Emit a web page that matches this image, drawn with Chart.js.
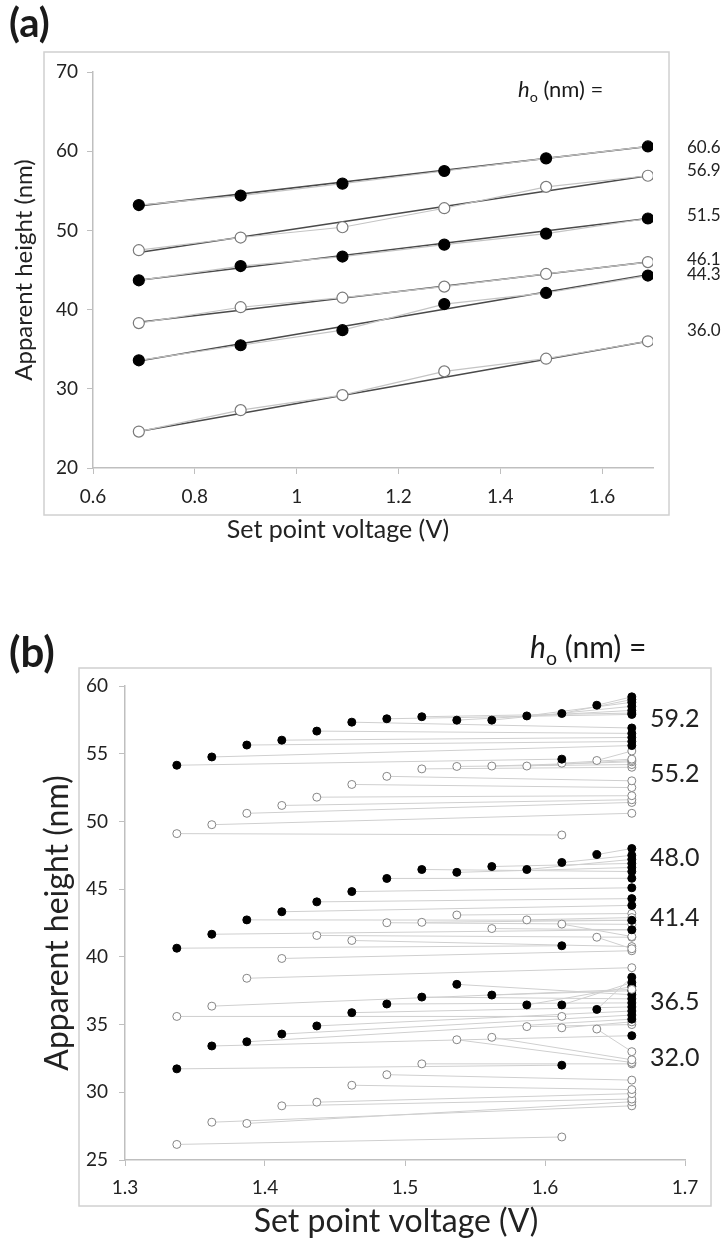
<!DOCTYPE html>
<html>
<head>
<meta charset="utf-8">
<script src="https://cdn.jsdelivr.net/npm/chart.js@4.4.1/dist/chart.umd.min.js"></script>
<style>
  body { margin: 0; background: #fff; width: 726px; height: 1241px; position: relative; overflow: hidden; font-family: Lato, sans-serif; color: #1a1a1a; }
  canvas { position: absolute; left: 0; }
  .panel { position: absolute; font-weight: bold; z-index: 2; }
  .ho { position: absolute; z-index: 2; white-space: nowrap; }
  .ho sub { font-size: 0.65em; }
</style>
</head>
<body>
<canvas id="chartA" width="726" height="560" style="top:0"></canvas>
<canvas id="chartB" width="726" height="641" style="top:600px"></canvas>
<div class="panel" style="left:9px; top:-2px; font-size:40px;">(a)</div>
<div class="ho" style="left:518px; top:75px; font-size:22px;"><i>h</i><sub>o</sub> (nm) =</div>
<div class="panel" style="left:9px; top:626px; font-size:42px;">(b)</div>
<div class="ho" style="left:530px; top:628px; font-size:30px;"><i>h</i><sub>o</sub> (nm) =</div>
<script>
// ---- panel (a) data ----
const voltA = [0.69, 0.89, 1.09, 1.29, 1.49, 1.69];
const hoA = ['60.6', '56.9', '51.5', '46.1', '44.3', '36.0'];
const filledA = [true, false, true, false, true, false];
const heightA606 = [53.2, 54.4, 55.9, 57.5, 59.1, 60.6];
const heightA569 = [47.5, 49.1, 50.4, 52.8, 55.5, 56.9];
const heightA515 = [43.7, 45.5, 46.7, 48.2, 49.6, 51.5];
const heightA461 = [38.3, 40.3, 41.5, 42.9, 44.5, 46.0];
const heightA443 = [33.6, 35.5, 37.4, 40.7, 42.1, 44.3];
const heightA360 = [24.6, 27.3, 29.2, 32.2, 33.8, 36.0];
// linear fit lines, value at first and last voltage
const fitStartA = [53.1, 47.2, 43.7, 38.4, 33.5, 24.6];
const fitEndA = [60.6, 56.9, 51.5, 46.0, 44.4, 36.0];

// ---- panel (b) data ----
const voltStartB = [1.337, 1.362, 1.387, 1.412, 1.437, 1.462, 1.487, 1.512, 1.537, 1.562, 1.587, 1.612, 1.637];
const voltEndB = [1.612, 1.662, 1.662, 1.662, 1.662, 1.662, 1.662, 1.662, 1.662, 1.662, 1.662, 1.662, 1.662];
const hoB = ['59.2', '55.2', '48.0', '41.4', '36.5', '32.0'];
const filledB = [true, false, true, false, true, false];
const startB592 = [54.15, 54.76, 55.64, 56.0, 56.67, 57.33, 57.58, 57.73, 57.48, 57.48, 57.79, 57.97, 58.58];
const endB592 = [54.6, 55.6, 55.9, 56.2, 56.5, 56.9, 57.9, 58.0, 58.2, 58.5, 58.8, 59.0, 59.2];
const startB552 = [49.1, 49.76, 50.6, 51.18, 51.79, 52.73, 53.33, 53.88, 54.06, 54.09, 54.09, 54.3, 54.5];
const endB552 = [49.0, 50.6, 51.4, 51.6, 51.9, 52.5, 53.0, 54.0, 54.2, 54.4, 54.5, 54.6, 55.2];
const startB480 = [40.64, 41.67, 42.73, 43.33, 44.06, 44.82, 45.79, 46.45, 46.24, 46.67, 46.45, 46.97, 47.55];
const endB480 = [40.82, 42.0, 42.7, 43.8, 44.3, 45.1, 45.8, 46.3, 46.6, 46.9, 47.2, 47.5, 48.0];
const startB414 = [35.6, 36.36, 38.42, 39.88, 41.58, 41.21, 42.52, 42.55, 43.09, 42.09, 42.73, 42.42, 41.45];
const endB414 = [35.6, 37.6, 39.2, 40.45, 41.45, 40.76, 42.4, 42.7, 43.2, 42.0, 42.9, 41.5, 40.6];
const startB365 = [31.73, 33.42, 33.73, 34.3, 34.9, 35.88, 36.52, 37.03, 37.97, 37.18, 36.45, 36.45, 36.12];
const endB365 = [32.0, 34.18, 35.4, 35.7, 36.0, 36.3, 36.6, 36.9, 37.2, 37.5, 37.8, 38.1, 38.5];
const startB320 = [26.15, 27.79, 27.7, 29.0, 29.27, 30.52, 31.3, 32.1, 33.88, 34.06, 34.85, 34.76, 34.67];
const endB320 = [26.7, 29.0, 29.3, 29.5, 29.9, 30.2, 30.9, 32.1, 32.2, 32.4, 35.0, 35.2, 33.0];

const FONT = 'Lato, sans-serif';
const TXT = '#222';
const AXIS = '#bfbfbf';

// frame, x-axis title and the h_o labels on the right (placed with the y scale)
function annotate(o) {
  return {
    id: 'annotate',
    beforeDraw(chart) {
      const ctx = chart.ctx;
      ctx.save();
      ctx.strokeStyle = '#d0d0d0';
      ctx.lineWidth = 1.5;
      ctx.strokeRect(o.frame[0], o.frame[1], o.frame[2], o.frame[3]);
      ctx.restore();
    },
    afterDraw(chart) {
      const ctx = chart.ctx;
      const y = chart.scales.y;
      ctx.save();
      ctx.fillStyle = TXT;
      ctx.textBaseline = 'middle';
      ctx.font = o.labelSize + 'px ' + FONT;
      o.labels.forEach((t, i) => ctx.fillText(t, o.labelX, y.getPixelForValue(o.labelVals[i])));
      ctx.font = o.titleSize + 'px ' + FONT;
      ctx.textAlign = 'center';
      ctx.fillText('Set point voltage (V)', o.titleX, o.titleY);
      ctx.restore();
    }
  };
}

function axes(o) {
  return {
    x: {
      type: 'linear', min: o.xmin, max: o.xmax,
      ticks: { stepSize: o.xstep, includeBounds: false, padding: o.xpad, color: TXT, font: { family: FONT, size: o.tick }, maxRotation: 0,
        callback: v => String(Math.round(v * 10) / 10) },
      grid: { drawOnChartArea: false, tickLength: 6, color: AXIS },
      border: { color: AXIS, width: 1.5 },
      title: { display: false },
      afterFit(s) { s.height = o.xh; }
    },
    y: {
      min: o.ymin, max: o.ymax,
      ticks: { stepSize: o.ystep, padding: o.ypad, color: TXT, font: { family: FONT, size: o.tick } },
      grid: { drawOnChartArea: false, tickLength: 6, color: AXIS },
      border: { color: AXIS, width: 1.5 },
      title: { display: true, text: 'Apparent height (nm)', color: TXT, font: { family: FONT, size: o.title }, padding: { top: o.ytp, bottom: 0 } },
      afterFit(s) { s.width = o.yw; }
    }
  };
}

// ---- chart (a) ----
const seriesA = [heightA606, heightA569, heightA515, heightA461, heightA443, heightA360];
const dsA = [];
seriesA.forEach((h, k) => {
  dsA.push({
    data: [{ x: voltA[0], y: fitStartA[k] }, { x: voltA[voltA.length - 1], y: fitEndA[k] }],
    showLine: true, pointRadius: 0, borderColor: '#4a4a4a', borderWidth: 1.6, order: 2
  });
  dsA.push({
    data: voltA.map((v, i) => ({ x: v, y: h[i] })),
    showLine: true, borderColor: '#c4c4c4', borderWidth: 1.2,
    pointRadius: 5.5, pointBorderWidth: 1.2,
    pointBackgroundColor: filledA[k] ? '#000' : '#fff',
    pointBorderColor: filledA[k] ? '#000' : '#7a7a7a',
    order: 1
  });
});

new Chart(document.getElementById('chartA'), {
  type: 'scatter',
  data: { datasets: dsA },
  options: {
    responsive: false, animation: false,
    layout: { padding: { left: 0, top: 72, right: 73, bottom: 22 } },
    plugins: { legend: { display: false }, tooltip: { enabled: false } },
    scales: axes({ xmin: 0.6, xmax: 1.7, xstep: 0.2, ymin: 20, ymax: 70, ystep: 10,
      tick: 19, title: 24, xpad: 11, xh: 70, ypad: 9, ytp: 10, yw: 93 })
  },
  plugins: [annotate({ frame: [44, 52, 625, 463], labels: hoA, labelVals: [60.5, 57.6, 51.9, 46.3, 44.4, 37.4],
    labelX: 687, labelSize: 17, titleX: 338, titleY: 530, titleSize: 25 })]
});

// ---- chart (b) ----
const groupsB = [
  [startB592, endB592], [startB552, endB552], [startB480, endB480],
  [startB414, endB414], [startB365, endB365], [startB320, endB320]
];
const dsB = [];
groupsB.forEach((g, k) => {
  const pts = [];
  voltStartB.forEach((v, i) => {
    const a = { x: v, y: g[0][i] };
    const b = { x: voltEndB[i], y: g[1][i] };
    dsB.push({ data: [a, b], showLine: true, pointRadius: 0, borderColor: '#cfcfcf', borderWidth: 1, order: 2 });
    pts.push(a, b);
  });
  dsB.push({
    data: pts, showLine: false,
    pointRadius: 4, pointBorderWidth: 1,
    pointBackgroundColor: filledB[k] ? '#000' : '#fff',
    pointBorderColor: filledB[k] ? '#000' : '#858585',
    order: 1
  });
});

new Chart(document.getElementById('chartB'), {
  type: 'scatter',
  data: { datasets: dsB },
  options: {
    responsive: false, animation: false,
    layout: { padding: { left: 0, top: 86, right: 41, bottom: 0 } },
    plugins: { legend: { display: false }, tooltip: { enabled: false } },
    scales: axes({ xmin: 1.3, xmax: 1.7, xstep: 0.1, ymin: 25, ymax: 60, ystep: 5,
      tick: 19, title: 32, xpad: 10, xh: 81, ypad: 11, ytp: 38, yw: 125 })
  },
  plugins: [annotate({ frame: [79, 68, 632, 538], labels: hoB, labelVals: [57.6, 53.5, 47.3, 42.9, 36.7, 32.5],
    labelX: 650, labelSize: 25, titleX: 396, titleY: 622, titleSize: 32 })]
});
</script>
</body>
</html>
